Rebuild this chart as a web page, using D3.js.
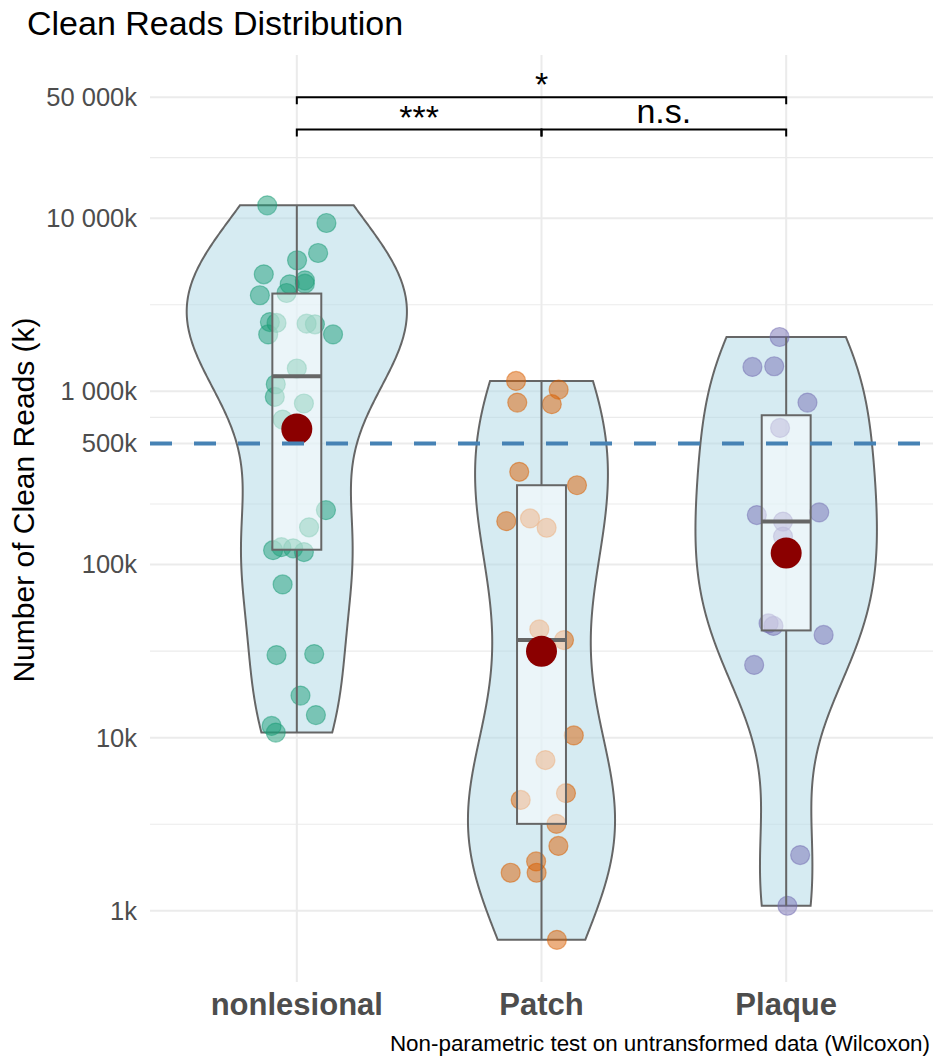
<!DOCTYPE html>
<html>
<head>
<meta charset="utf-8">
<title>Clean Reads Distribution</title>
<script src="https://cdn.jsdelivr.net/npm/d3@7"></script>
<style>
    body { margin: 0; background: #fff; }
    svg { display: block; font-family: "Liberation Sans", Arial, Helvetica, sans-serif; }
</style>
</head>
<body>
<div id="chart"></div>
<script>
const groups = ['nonlesional', 'Patch', 'Plaque'];

// clean reads per sample, in thousands
const nonlesionalReads = [11858, 9376, 6295, 5715, 4742, 4375, 4188, 4150, 3698, 3589,
    2512, 2483, 2460, 2438, 2133, 2133, 1355, 1099, 929, 851, 687,
    206, 164, 126, 124, 121, 118, 76.7, 30.0, 30.4, 17.5, 13.5, 11.7, 10.7];
const patchReads = [1148, 861, 1023, 843, 343, 287, 178, 184.5, 163, 42.2, 36.6,
    10.3, 7.43, 4.37, 4.78, 3.18, 2.37, 1.93, 1.66, 1.66, 0.68];
const plaqueReads = [2060, 1383, 1396, 861, 615, 193, 200, 177, 145,
    45.7, 44.2, 39.2, 26.3, 2.10, 1.07];

// horizontal jitter of each sample, as a fraction of one category step
const nonlesionalJitter = [-0.121, 0.121, 0.087, 0.001, -0.135, 0.033, 0.033, -0.029, -0.042, -0.151,
    -0.110, -0.083, 0.040, 0.074, 0.148, -0.117, 0.000, -0.086, -0.090, 0.029, -0.058,
    0.119, 0.050, -0.063, -0.015, -0.097, 0.029, -0.058, -0.083, 0.071, 0.015, 0.078, -0.103, -0.086];
const patchJitter = [-0.104, -0.099, 0.070, 0.042, -0.091, 0.145, -0.144, -0.047, 0.021, -0.009, 0.092,
    0.132, 0.016, -0.085, 0.100, 0.061, 0.069, -0.022, -0.126, -0.020, 0.063];
const plaqueJitter = [-0.027, -0.138, -0.049, 0.087, -0.025, -0.120, 0.135, -0.013, -0.013,
    -0.072, -0.052, 0.153, -0.131, 0.057, 0.005];

const groupReads = [nonlesionalReads, patchReads, plaqueReads];
const groupJitter = [nonlesionalJitter, patchJitter, plaqueJitter];
const groupColors = ['#1b9e77', '#d95f02', '#7570b3'];

const yTicks = [1, 10, 100, 500, 1000, 10000, 50000];
const cutoffReads = 500;

// Wilcoxon comparisons
const sigPairs = [['nonlesional', 'Patch'], ['Patch', 'Plaque'], ['nonlesional', 'Plaque']];
const sigLabels = ['***', 'n.s.', '*'];
const sigLevels = [32500, 32500, 50000];

document.addEventListener('DOMContentLoaded', () => {
    const width = 935;
    const height = 1058;
    const panel = { left: 150, right: 933, top: 55, bottom: 982 };

    const svg = d3.select('#chart').append('svg')
        .attr('width', width)
        .attr('height', height);

    // --- Scales ---
    const x = d3.scalePoint()
        .domain(groups)
        .range([panel.left, panel.right])
        .padding(0.6);
    const step = x.step();

    const allLogs = groupReads.flat().concat(sigLevels).map(v => Math.log10(v));
    const lo = d3.min(allLogs);
    const hi = d3.max(allLogs);
    const pad = 0.05 * (hi - lo);
    const y = d3.scaleLog()
        .domain([Math.pow(10, lo - pad), Math.pow(10, hi + pad)])
        .range([panel.bottom, panel.top]);

    const fmt = d3.formatLocale({ decimal: '.', thousands: ' ', grouping: [3], currency: ['', ''] }).format(',d');

    // --- Grid ---
    const grid = svg.append('g');
    const minorTicks = d3.pairs(yTicks).map(([a, b]) => Math.sqrt(a * b));
    grid.selectAll('.minor')
        .data(minorTicks)
        .join('line')
        .attr('x1', panel.left).attr('x2', panel.right)
        .attr('y1', d => y(d)).attr('y2', d => y(d))
        .attr('stroke', '#ebebeb').attr('stroke-width', 1.2);
    grid.selectAll('.major')
        .data(yTicks)
        .join('line')
        .attr('x1', panel.left).attr('x2', panel.right)
        .attr('y1', d => y(d)).attr('y2', d => y(d))
        .attr('stroke', '#ebebeb').attr('stroke-width', 2);
    grid.selectAll('.vmajor')
        .data(groups)
        .join('line')
        .attr('x1', d => x(d)).attr('x2', d => x(d))
        .attr('y1', panel.top).attr('y2', panel.bottom)
        .attr('stroke', '#ebebeb').attr('stroke-width', 2);

    // --- Axis labels ---
    svg.append('g')
        .selectAll('text')
        .data(yTicks)
        .join('text')
        .attr('x', 137)
        .attr('y', d => y(d))
        .attr('dy', '0.35em')
        .attr('text-anchor', 'end')
        .attr('font-size', 25.5)
        .attr('fill', '#4d4d4d')
        .text(d => fmt(d) + 'k');

    svg.append('g')
        .selectAll('text')
        .data(groups)
        .join('text')
        .attr('x', d => x(d))
        .attr('y', 1015)
        .attr('text-anchor', 'middle')
        .attr('font-size', 31)
        .attr('font-weight', 'bold')
        .attr('fill', '#4d4d4d')
        .text(d => d);

    svg.append('text')
        .attr('transform', 'translate(34,500) rotate(-90)')
        .attr('text-anchor', 'middle')
        .attr('font-size', 30)
        .attr('fill', '#000')
        .text('Number of Clean Reads (k)');

    svg.append('text')
        .attr('x', 27)
        .attr('y', 35)
        .attr('font-size', 34)
        .attr('fill', '#000')
        .text('Clean Reads Distribution');

    svg.append('text')
        .attr('x', 930)
        .attr('y', 1051)
        .attr('text-anchor', 'end')
        .attr('font-size', 22.4)
        .attr('fill', '#000')
        .text('Non-parametric test on untransformed data (Wilcoxon)');

    // --- Violins (KDE on log10 scale, trimmed, scale = "area") ---
    function density(logs) {
        const n = logs.length;
        const sorted = logs.slice().sort(d3.ascending);
        const iqr = d3.quantile(sorted, 0.75) - d3.quantile(sorted, 0.25);
        const bw = 0.9 * Math.min(d3.deviation(logs), iqr / 1.34) * Math.pow(n, -0.2);
        const [mn, mx] = d3.extent(logs);
        return d3.range(512).map(i => {
            const t = mn + (mx - mn) * i / 511;
            const d = d3.sum(logs, v => Math.exp(-0.5 * ((t - v) / bw) ** 2)) / (n * bw * Math.sqrt(2 * Math.PI));
            return { t, d };
        });
    }

    const groupLogs = groupReads.map(vals => vals.map(v => Math.log10(v)));
    const densities = groupLogs.map(density);
    const maxD = d3.max(densities.flat(), d => d.d);
    const halfWidth = 0.45 * step;

    const plot = svg.append('g');

    groups.forEach((g, i) => {
        const cx = x(g);
        const area = d3.area()
            .y(d => y(Math.pow(10, d.t)))
            .x0(d => cx - d.d / maxD * halfWidth)
            .x1(d => cx + d.d / maxD * halfWidth);
        plot.append('path')
            .attr('d', area(densities[i]))
            .attr('fill', '#add8e6')
            .attr('fill-opacity', 0.5)
            .attr('stroke', '#666')
            .attr('stroke-width', 2);
    });

    // --- Jittered samples ---
    groups.forEach((g, i) => {
        plot.append('g')
            .selectAll('circle')
            .data(groupReads[i])
            .join('circle')
            .attr('cx', (d, j) => x(g) + groupJitter[i][j] * step)
            .attr('cy', d => y(d))
            .attr('r', 9.5)
            .attr('fill', groupColors[i])
            .attr('fill-opacity', 0.5)
            .attr('stroke', groupColors[i])
            .attr('stroke-opacity', 0.5)
            .attr('stroke-width', 1.2);
    });

    // --- Boxplots (on log scale) ---
    const boxW = 0.2 * step;
    groups.forEach((g, i) => {
        const cx = x(g);
        const logs = groupLogs[i].slice().sort(d3.ascending);
        const q1 = d3.quantile(logs, 0.25);
        const med = d3.quantile(logs, 0.5);
        const q3 = d3.quantile(logs, 0.75);
        const iqr = q3 - q1;
        const upper = d3.max(logs.filter(v => v <= q3 + 1.5 * iqr));
        const lower = d3.min(logs.filter(v => v >= q1 - 1.5 * iqr));
        const p = v => y(Math.pow(10, v));

        const box = plot.append('g');
        box.append('line')
            .attr('x1', cx).attr('x2', cx)
            .attr('y1', p(q3)).attr('y2', p(upper))
            .attr('stroke', '#666').attr('stroke-width', 2);
        box.append('line')
            .attr('x1', cx).attr('x2', cx)
            .attr('y1', p(q1)).attr('y2', p(lower))
            .attr('stroke', '#666').attr('stroke-width', 2);
        box.append('rect')
            .attr('x', cx - boxW / 2)
            .attr('y', p(q3))
            .attr('width', boxW)
            .attr('height', p(q1) - p(q3))
            .attr('fill', '#fff')
            .attr('fill-opacity', 0.5)
            .attr('stroke', '#666')
            .attr('stroke-width', 2);
        box.append('line')
            .attr('x1', cx - boxW / 2).attr('x2', cx + boxW / 2)
            .attr('y1', p(med)).attr('y2', p(med))
            .attr('stroke', '#666').attr('stroke-width', 4);

        // mean of log values
        plot.append('circle')
            .attr('cx', cx)
            .attr('cy', p(d3.mean(groupLogs[i])))
            .attr('r', 15.5)
            .attr('fill', '#8b0000');
    });

    // --- 500k cut-off ---
    svg.append('line')
        .attr('x1', panel.left).attr('x2', panel.right)
        .attr('y1', y(cutoffReads)).attr('y2', y(cutoffReads))
        .attr('stroke', '#4682b4')
        .attr('stroke-width', 4)
        .attr('stroke-dasharray', '22,22');

    // --- Significance brackets ---
    const tip = 7;
    const sig = svg.append('g');
    sigPairs.forEach(([a, b], i) => {
        const yy = y(sigLevels[i]);
        sig.append('path')
            .attr('d', `M${x(a)},${yy + tip}V${yy}H${x(b)}V${yy + tip}`)
            .attr('fill', 'none')
            .attr('stroke', '#000')
            .attr('stroke-width', 2);
        const isStars = sigLabels[i].startsWith('*');
        sig.append('text')
            .attr('x', (x(a) + x(b)) / 2)
            .attr('y', isStars ? yy - 1 : yy - 7)
            .attr('text-anchor', 'middle')
            .attr('font-size', 34)
            .attr('fill', '#000')
            .text(sigLabels[i]);
    });
});
</script>
</body>
</html>
